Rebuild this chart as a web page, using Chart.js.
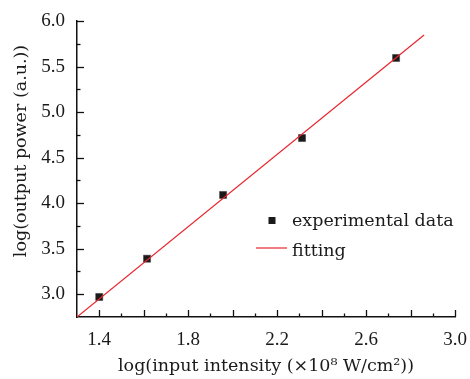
<!DOCTYPE html>
<html>
<head>
<meta charset="utf-8">
<script src="https://cdn.jsdelivr.net/npm/chart.js@4"></script>
<style>
  html, body { margin: 0; padding: 0; background: #fff; }
  #wrap { width: 470px; height: 379px; }
</style>
</head>
<body>
<div id="wrap"><canvas id="chart" width="470" height="379"></canvas></div>
<script>
// data
const inputLog = [1.40, 1.615, 1.957, 2.312, 2.735];
const outputLog = [2.97, 3.39, 4.09, 4.715, 5.594];
const fitX = [1.3, 2.861];
const fitY = [2.75, 5.846];
const xTickLabels = [1.4, 1.8, 2.2, 2.6, 3.0];
const yTickLabels = [3.0, 3.5, 4.0, 4.5, 5.0, 5.5, 6.0];

const FONT = 'DejaVu Serif';
const NUMFONT = 'Liberation Serif';
const TXT = '#1a1a1a';
const RED = '#e8262e';

// inward tick marks, y title and legend
const decor = {
  id: 'decor',
  afterDraw(chart) {
    const ctx = chart.ctx;
    const xs = chart.scales.x, ys = chart.scales.y;
    const area = chart.chartArea;
    ctx.save();
    ctx.strokeStyle = '#111';
    ctx.lineWidth = 1.3;
    xs.ticks.forEach(t => {
      const k = Math.round(t.value * 10);
      if (k <= 13) return;
      const px = Math.round(xs.getPixelForValue(t.value)) + 0.5;
      const len = k % 2 === 0 ? 7 : 3.5;
      ctx.beginPath();
      ctx.moveTo(px, area.bottom);
      ctx.lineTo(px, area.bottom - len);
      ctx.stroke();
    });
    ys.ticks.forEach(t => {
      const k = Math.round(t.value * 4);
      if (k <= 11) return;
      const py = Math.round(ys.getPixelForValue(t.value)) + 0.5;
      const len = k % 2 === 0 ? 7 : 3.5;
      ctx.beginPath();
      ctx.moveTo(area.left, py);
      ctx.lineTo(area.left + len, py);
      ctx.stroke();
    });

    // y title
    ctx.fillStyle = TXT;
    ctx.font = '17.5px "' + FONT + '"';
    ctx.textAlign = 'center';
    ctx.textBaseline = 'middle';
    ctx.translate(21, 151);
    ctx.rotate(-Math.PI / 2);
    ctx.fillText('log(output power (a.u.))', 0, 0);
    ctx.restore();

    // legend
    ctx.save();
    ctx.font = '17.5px "' + FONT + '"';
    ctx.textBaseline = 'alphabetic';
    ctx.textAlign = 'left';
    ctx.fillStyle = '#1a1a1a';
    ctx.fillRect(268.5, 217, 7, 7);
    ctx.fillStyle = TXT;
    ctx.fillText('experimental data', 292, 226);
    ctx.strokeStyle = RED;
    ctx.lineWidth = 1.2;
    ctx.beginPath();
    ctx.moveTo(256, 248);
    ctx.lineTo(287, 248);
    ctx.stroke();
    ctx.fillText('fitting', 292, 256);
    ctx.restore();
  }
};

new Chart(document.getElementById('chart'), {
  type: 'scatter',
  data: {
    datasets: [
      {
        label: 'experimental data',
        data: inputLog.map((x, i) => ({ x: x, y: outputLog[i] })),
        pointStyle: 'rect',
        pointRadius: 5,
        backgroundColor: '#1a1a1a',
        borderColor: '#3a3a3a',
        borderWidth: 0.5,
        order: 1
      },
      {
        label: 'fitting',
        data: fitX.map((x, i) => ({ x: x, y: fitY[i] })),
        showLine: true,
        borderColor: RED,
        borderWidth: 1.2,
        pointRadius: 0,
        order: 0
      }
    ]
  },
  options: {
    responsive: false,
    animation: false,
    layout: { padding: { left: 0, right: 15, top: 21, bottom: 0 } },
    plugins: { legend: { display: false }, tooltip: { enabled: false } },
    scales: {
      x: {
        type: 'linear',
        min: 1.3,
        max: 3.0,
        afterFit: s => { s.height = 62; s.paddingLeft = 0; s.paddingRight = 0; },
        grid: { display: false },
        border: { display: true, color: '#111', width: 1.5 },
        ticks: {
          stepSize: 0.1,
          autoSkip: false,
          maxRotation: 0,
          padding: 3.5,
          color: TXT,
          font: { family: NUMFONT, size: 19 },
          callback: v => {
            const hit = xTickLabels.find(l => Math.abs(l - v) < 1e-6);
            return hit === undefined ? '' : hit.toFixed(1);
          }
        },
        title: {
          display: true,
          text: 'log(input intensity (×10⁸ W/cm²))',
          color: TXT,
          font: { family: FONT, size: 17.5 },
          padding: { top: 0, bottom: 2.5 }
        }
      },
      y: {
        type: 'linear',
        min: 2.75,
        max: 6.0,
        afterFit: s => { s.width = 77; s.paddingTop = 0; s.paddingBottom = 0; },
        grid: { display: false },
        border: { display: true, color: '#111', width: 1.5 },
        ticks: {
          stepSize: 0.25,
          autoSkip: false,
          padding: 4,
          color: TXT,
          font: { family: NUMFONT, size: 19 },
          callback: v => {
            const hit = yTickLabels.find(l => Math.abs(l - v) < 1e-6);
            return hit === undefined ? '' : hit.toFixed(1);
          }
        }
      }
    }
  },
  plugins: [decor]
});
</script>
</body>
</html>
